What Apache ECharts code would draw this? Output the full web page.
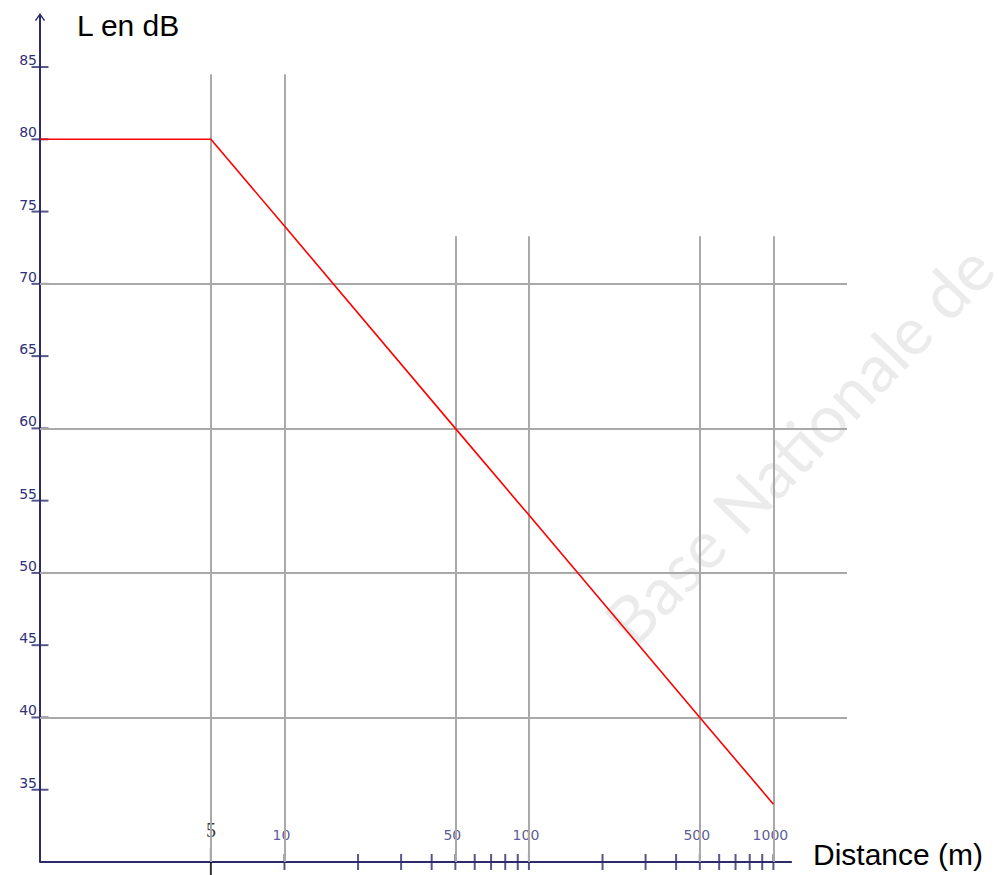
<!DOCTYPE html>
<html>
<head>
<meta charset="utf-8">
<title>L en dB</title>
<script src="https://cdn.jsdelivr.net/npm/echarts@6/dist/echarts.min.js"></script>
<style>
  html, body { margin: 0; padding: 0; background: #ffffff; }
  #chart { width: 998px; height: 875px; }
</style>
</head>
<body>
<div id="chart"></div>
<script>
// Niveau sonore en fonction de la distance (échelle logarithmique)
const distances = [1, 5, 10, 50, 100, 500, 1000];
const niveaux = [80, 80, 74, 60, 54, 40, 34];

// Graduations
const yTickValues = [35, 40, 45, 50, 55, 60, 65, 70, 75, 80, 85];
const xTickValues = [10, 20, 30, 40, 50, 60, 70, 80, 90, 100,
                     200, 300, 400, 500, 600, 700, 800, 900, 1000];
const xLabelValues = [5, 10, 50, 100, 500, 1000];
const xLabels = ['5', '10', '50', '100', '500', '1000'];

// Quadrillage
const gridLevels = [40, 50, 60, 70];
const gridDistances = [5, 10, 50, 100, 500, 1000];

const AXIS = '#2c2c6c';
const LABEL = '#30307a';
const GRID = '#a9a9a9';
const Y_MIN = 30, Y_MAX = 88.6, X_MIN = 1, X_MAX = 2000, X_AXIS_END = 1190;

const chart = echarts.init(document.getElementById('chart'), null, { renderer: 'svg' });

const gridLines = [];
gridDistances.forEach(d => {
  const top = d < 50 ? 84.5 : 73.3;
  gridLines.push([{ coord: [d, Y_MIN] }, { coord: [d, top] }]);
});
gridLevels.forEach(v => {
  gridLines.push([{ coord: [X_MIN, v] }, { coord: [X_MAX, v] }]);
});

const labelItems = xLabelValues.map((d, i) => {
  const item = { value: [d, Y_MIN], name: xLabels[i] };
  if (d === 5) {
    item.label = {
      fontFamily: '"Liberation Serif", "DejaVu Serif", serif',
      fontSize: 20, color: '#000000', lineHeight: 20, offset: [0, 0], distance: 22
    };
  }
  return item;
});

const option = {
  animation: false,
  grid: { left: 40, right: 151, top: 15, bottom: 13, containLabel: false },
  xAxis: {
    type: 'log', logBase: 10, min: X_MIN, max: X_MAX,
    axisLine: { show: false }, axisTick: { show: false },
    axisLabel: { show: false }, splitLine: { show: false }
  },
  yAxis: {
    type: 'value', min: Y_MIN, max: Y_MAX, interval: 5,
    axisLine: {
      show: true, onZero: false,
      lineStyle: { color: AXIS, width: 2 },
      symbol: ['none', 'path://M0,8.6 L6,0 L12,8.6 L10.6,9.4 L6,3 L1.4,9.4 Z'],
      symbolSize: [12, 8],
      symbolOffset: [0, -2]
    },
    axisTick: { show: false },
    splitLine: { show: false },
    axisLabel: {
      show: true, margin: 3,
      verticalAlign: 'bottom', lineHeight: 14,
      fontFamily: '"DejaVu Sans", Verdana, sans-serif', fontSize: 14,
      color: LABEL,
      formatter: v => (v % 5 === 0 && v >= 35) ? String(v) : ''
    }
  },
  graphic: [
    {
      type: 'text', left: 77, top: 10, silent: true,
      style: { text: 'L en dB', font: '30px "Liberation Sans", Arial, sans-serif', fill: '#000000' }
    },
    {
      type: 'text', left: 813, top: 839, silent: true,
      style: { text: 'Distance (m)', font: '30px "Liberation Sans", Arial, sans-serif', fill: '#000000' }
    },
    {
      type: 'text', x: 640, y: 655, rotation: 46 * Math.PI / 180, silent: true, z: -10,
      style: {
        text: 'Base Nationale de', font: '66px Lato, "Open Sans", sans-serif',
        fill: '#ebebeb', verticalAlign: 'bottom'
      }
    }
  ],
  series: [
    {
      name: 'quadrillage', type: 'line', data: [], silent: true, z: 1,
      markLine: {
        silent: true, symbol: 'none', animation: false,
        label: { show: false },
        lineStyle: { color: GRID, width: 2, type: 'solid' },
        data: gridLines
      }
    },
    {
      name: 'axe des distances', type: 'line', silent: true, z: 3,
      data: [[X_MIN, Y_MIN], [X_AXIS_END, Y_MIN]],
      showSymbol: false, symbol: 'none',
      lineStyle: { color: AXIS, width: 2 }
    },
    {
      name: 'graduations y', type: 'scatter', silent: true, z: 4,
      data: yTickValues.map(v => [X_MIN, v]),
      symbol: 'rect', symbolSize: [17, 2],
      itemStyle: { color: AXIS }
    },
    {
      name: 'graduations x', type: 'scatter', silent: true, z: 4,
      data: xTickValues.map(d => [d, Y_MIN]),
      symbol: 'rect', symbolSize: [2, 16],
      itemStyle: { color: AXIS }
    },
    {
      name: 'graduation 5 m', type: 'scatter', silent: true, z: 4,
      data: [[5, Y_MIN]],
      symbol: 'rect', symbolSize: [2, 28],
      itemStyle: { color: '#000000' }
    },
    {
      name: 'étiquettes x', type: 'scatter', silent: true, z: 4,
      data: labelItems,
      symbolSize: 0,
      label: {
        show: true, position: 'top', distance: 20, offset: [-3, 0],
        formatter: p => p.name,
        fontFamily: '"DejaVu Sans", Verdana, sans-serif', fontSize: 14,
        lineHeight: 14, color: LABEL
      }
    },
    {
      name: 'L', type: 'line', z: 5, silent: true,
      data: distances.map((d, i) => [d, niveaux[i]]),
      showSymbol: false, symbol: 'none',
      lineStyle: { color: '#ff0000', width: 1.6 }
    }
  ]
};

chart.setOption(option);
</script>
</body>
</html>
